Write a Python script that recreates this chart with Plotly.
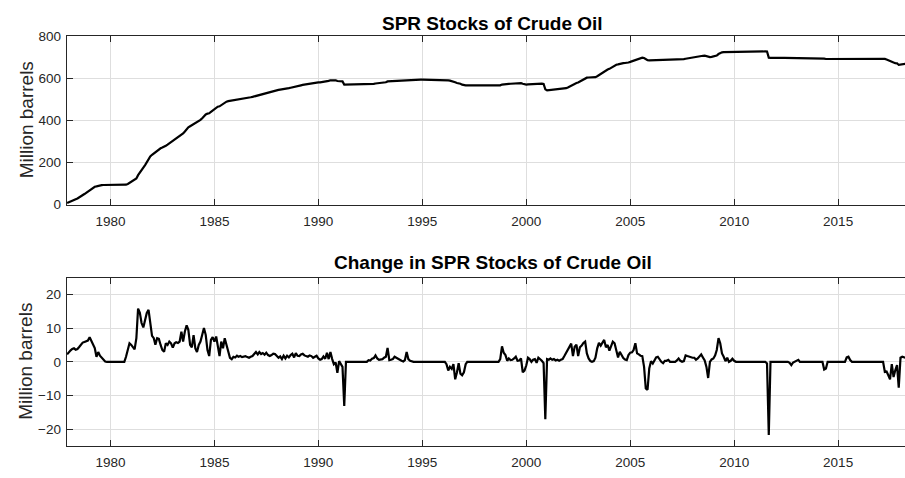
import pandas as pd
import plotly.graph_objects as go

# ---------------- data (monthly, first value = Dec 1977) ----------------
first_month = "1977-12-01"

# SPR stocks of crude oil, million barrels
spr_stocks = [
    7.5,                                                                       # 1977 (Dec)
    10.5, 13.9, 17.7, 21.7, 25.3, 29.1, 33.5, 38.5, 44.2, 50.1, 56.1, 62.4,    # 1978
    69.7, 75.7, 80.7, 84.8, 86.3, 89.2, 91.0, 92.3, 93.1, 93.2, 93.2, 93.2,    # 1979
    93.2, 93.2, 93.2, 93.2, 93.2, 93.2, 93.2, 93.2, 93.2, 94.7, 98.2, 103.7,   # 1980
    108.7, 113.1, 116.8, 123.8, 139.6, 154.1, 165.6, 175.8, 187.8, 202.3, 217.7, 228.7,  # 1981
    236.4, 243.4, 248.5, 255.5, 262.3, 267.3, 270.8, 273.8, 279.3, 284.3, 290.3, 295.8,  # 1982
    300.0, 305.5, 311.3, 316.9, 322.9, 331.8, 337.8, 346.8, 357.6, 367.1, 372.1, 376.4,  # 1983
    384.3, 388.3, 391.2, 396.2, 402.2, 410.2, 420.2, 428.2, 431.7, 433.4, 439.9, 447.2,  # 1984
    453.2, 460.7, 464.7, 466.4, 472.4, 476.4, 483.4, 488.4, 490.9, 492.1, 492.9, 494.4,  # 1985
    495.7, 497.5, 499.0, 500.7, 502.1, 503.7, 505.4, 506.8, 508.0, 509.5, 511.2, 513.5,  # 1986
    516.4, 518.6, 521.5, 523.8, 526.4, 528.5, 531.2, 533.2, 534.9, 536.9, 539.3, 541.6,  # 1987
    543.3, 544.5, 546.1, 546.9, 548.7, 549.7, 551.5, 552.8, 554.8, 557.2, 558.5, 561.1,  # 1988
    562.6, 564.0, 565.9, 568.0, 569.6, 571.0, 572.2, 573.8, 575.2, 576.1, 577.4, 578.9,  # 1989
    579.9, 580.5, 581.3, 582.9, 583.8, 586.5, 587.3, 590.2, 591.0, 590.3, 590.1, 586.8,  # 1990
    587.0, 586.5, 585.0, 570.0, 570.0, 570.0, 570.0, 570.0, 570.0, 570.0, 570.0, 570.0,  # 1991
    570.0, 570.0, 570.0, 570.0, 570.0, 570.5, 570.9, 571.8, 572.9, 574.8, 575.8, 576.4,  # 1992
    577.0, 577.8, 579.0, 580.5, 584.6, 585.1, 585.7, 586.5, 588.0, 589.2, 589.9, 590.3,  # 1993
    590.4, 590.5, 590.9, 592.6, 593.0, 593.2, 593.2, 593.2, 593.2, 593.2, 593.2, 593.2,  # 1994
    593.2, 593.2, 593.2, 593.2, 593.2, 593.2, 593.2, 593.2, 593.2, 593.2, 593.2, 593.2,  # 1995
    593.2, 593.2, 592.5, 589.9, 588.4, 586.3, 585.6, 580.4, 577.3, 576.9, 573.4, 569.4,  # 1996
    566.3, 565.6, 565.6, 565.6, 565.6, 565.6, 565.6, 565.6, 565.6, 565.6, 565.6, 565.6,  # 1997
    565.6, 565.6, 565.6, 565.6, 565.6, 565.6, 565.6, 565.6, 565.6, 566.2, 569.8, 571.6,  # 1998
    572.6, 572.8, 573.4, 573.7, 574.0, 574.6, 575.5, 575.7, 576.0, 576.6, 573.4, 570.6,  # 1999
    569.7, 570.7, 571.4, 571.4, 571.9, 572.6, 572.3, 573.3, 574.0, 574.2, 572.5, 547.0,  # 2000
    542.5, 543.1, 544.1, 544.7, 545.5, 545.9, 546.5, 546.8, 547.4, 548.2, 549.9, 552.6,  # 2001
    556.2, 560.8, 566.2, 567.9, 572.4, 577.5, 579.2, 583.5, 588.3, 593.9, 599.9, 602.4,  # 2002
    603.4, 603.6, 603.6, 603.8, 605.0, 609.0, 614.6, 619.4, 625.2, 631.7, 636.0, 641.0,  # 2003
    644.3, 649.3, 655.3, 660.8, 664.0, 665.3, 668.3, 670.3, 671.4, 672.1, 672.6, 674.6,  # 2004
    677.3, 680.1, 683.6, 689.1, 691.6, 693.8, 695.6, 697.3, 696.0, 689.0, 685.2, 684.5,  # 2005
    684.7, 684.2, 684.7, 686.0, 687.5, 688.0, 688.0, 687.6, 687.9, 688.2, 688.8, 688.8,  # 2006
    688.8, 688.7, 688.7, 689.1, 690.1, 690.4, 690.4, 690.6, 692.5, 694.2, 695.7, 697.2,  # 2007
    698.4, 699.6, 700.2, 701.2, 702.9, 705.1, 706.4, 706.8, 705.3, 700.5, 700.5, 701.2,  # 2008
    702.2, 704.1, 707.6, 714.6, 720.1, 722.6, 724.1, 724.3, 725.5, 725.5, 725.8, 726.7,  # 2009
    727.0, 727.0, 727.0, 727.0, 727.0, 727.0, 727.0, 727.0, 727.0, 727.0, 727.0, 727.0,  # 2010
    727.0, 727.0, 727.0, 727.0, 727.0, 727.0, 727.0, 726.5, 697.5, 696.5, 696.0, 696.0,  # 2011
    696.0, 696.0, 696.0, 696.0, 696.0, 696.0, 696.0, 696.0, 695.7, 694.7, 694.5, 694.5,  # 2012
    694.8, 695.4, 695.4, 695.4, 695.4, 695.4, 695.4, 695.4, 695.4, 695.4, 695.4, 695.4,  # 2013
    695.4, 695.4, 695.4, 695.4, 693.1, 691.1, 691.1, 691.1, 691.1, 691.1, 691.1, 691.1,  # 2014
    691.1, 691.1, 691.1, 691.1, 691.1, 692.4, 693.9, 694.4, 694.4, 694.4, 694.4, 694.4,  # 2015
    694.4, 694.4, 694.4, 694.4, 694.4, 694.4, 694.4, 694.4, 694.4, 694.4, 694.4, 694.4,  # 2016
    694.4, 694.4, 694.4, 691.4, 688.5, 684.5, 679.3, 678.6, 674.1, 671.6, 670.6, 662.9,  # 2017
    664.1, 665.6, 666.9, 668.1,                                                # 2018 (Jan-Apr)
]

# Monthly change in SPR stocks, million barrels
spr_change = [
    2.2,                                                                       # 1977 (Dec)
    3.0, 3.4, 3.8, 4.0, 3.6, 3.8, 4.4, 5.0, 5.7, 5.9, 6.0, 6.3,                # 1978
    7.3, 6.0, 5.0, 4.1, 1.5, 2.9, 1.8, 1.3, 0.8, 0.1, 0.0, 0.0,                # 1979
    0.0, 0.0, 0.0, 0.0, 0.0, 0.0, 0.0, 0.0, 0.0, 1.5, 3.5, 5.5,                # 1980
    5.0, 4.4, 3.7, 7.0, 15.8, 14.5, 11.5, 10.2, 12.0, 14.5, 15.4, 11.0,        # 1981
    7.7, 7.0, 5.1, 7.0, 6.8, 5.0, 3.5, 3.0, 5.5, 5.0, 6.0, 5.5,                # 1982
    4.2, 5.5, 5.8, 5.6, 6.0, 8.9, 6.0, 9.0, 10.8, 9.5, 5.0, 4.3,               # 1983
    7.9, 4.0, 2.9, 5.0, 6.0, 8.0, 10.0, 8.0, 3.5, 1.7, 6.5, 7.3,               # 1984
    6.0, 7.5, 4.0, 1.7, 6.0, 4.0, 7.0, 5.0, 2.5, 1.2, 0.8, 1.5,                # 1985
    1.3, 1.8, 1.5, 1.7, 1.4, 1.6, 1.7, 1.4, 1.2, 1.5, 1.7, 2.3,                # 1986
    2.9, 2.2, 2.9, 2.3, 2.6, 2.1, 2.7, 2.0, 1.7, 2.0, 2.4, 2.3,                # 1987
    1.7, 1.2, 1.6, 0.8, 1.8, 1.0, 1.8, 1.3, 2.0, 2.4, 1.3, 2.6,                # 1988
    1.8, 1.7, 2.2, 2.4, 1.9, 1.7, 1.5, 1.9, 1.7, 1.2, 1.6, 1.8,                # 1989
    1.0, 0.6, 0.8, 1.6, 0.9, 2.7, 0.8, 2.9, 0.8, -0.7, -0.2, -3.3,             # 1990
    0.2, -0.5, -1.5, -13.1, 0.0, 0.0, 0.0, 0.0, 0.0, 0.0, 0.0, 0.0,            # 1991
    0.0, 0.0, 0.0, 0.0, 0.0, 0.5, 0.4, 0.9, 1.1, 1.9, 1.0, 0.6,                # 1992
    0.6, 0.8, 1.2, 1.5, 4.1, 0.5, 0.6, 0.8, 1.5, 1.2, 0.7, 0.4,                # 1993
    0.3, 0.1, 0.5, 2.9, 0.8, 0.3, 0.1, 0.0, 0.0, 0.0, 0.0, 0.0,                # 1994
    0.0, 0.0, 0.0, 0.0, 0.0, 0.0, 0.0, 0.0, 0.0, 0.0, 0.0, 0.0,                # 1995
    0.0, 0.0, -0.7, -2.6, -1.5, -2.1, -0.7, -5.2, -3.1, -0.4, -3.5, -4.0,      # 1996
    -3.1, -0.7, 0.0, 0.0, 0.0, 0.0, 0.0, 0.0, 0.0, 0.0, 0.0, 0.0,              # 1997
    0.0, 0.0, 0.0, 0.0, 0.0, 0.0, 0.0, 0.0, 0.0, 0.8, 4.6, 2.7,                # 1998
    2.0, 0.3, 1.0, 0.5, 0.6, 1.0, 1.5, 0.3, 0.4, 1.0, -3.1, -2.6,              # 1999
    -1.1, 1.2, 0.8, 0.0, 0.6, 0.8, -0.3, 1.2, 0.8, 0.3, -0.4, -17.0,           # 2000
    0.8, 0.6, 1.0, 0.6, 0.8, 0.4, 0.6, 0.3, 0.6, 0.8, 1.7, 2.7,                # 2001
    3.6, 4.6, 5.4, 1.7, 4.5, 5.1, 1.7, 4.3, 4.8, 5.6, 6.0, 2.5,                # 2002
    1.0, 0.2, 0.0, 0.2, 1.2, 4.0, 5.6, 4.8, 5.8, 6.5, 4.3, 5.0,                # 2003
    3.3, 5.0, 6.0, 5.5, 3.2, 1.3, 3.0, 2.0, 1.1, 0.7, 0.5, 2.0,                # 2004
    2.7, 2.8, 3.5, 5.5, 2.5, 2.2, 1.8, 1.7, -1.5, -7.9, -8.3, -2.0,            # 2005
    0.2, -0.5, 0.5, 1.3, 1.5, 0.5, 0.0, -0.4, 0.3, 0.3, 0.6, 0.0,              # 2006
    0.0, -0.1, 0.0, 0.4, 1.0, 0.3, 0.0, 0.2, 1.9, 1.7, 1.5, 1.5,               # 2007
    1.2, 1.2, 0.6, 1.0, 1.7, 2.2, 1.3, 0.4, -1.5, -4.8, 0.0, 0.7,              # 2008
    1.0, 1.9, 3.5, 7.0, 5.5, 2.5, 1.5, 0.2, 1.2, 0.0, 0.3, 0.9,                # 2009
    0.3, 0.0, 0.0, 0.0, 0.0, 0.0, 0.0, 0.0, 0.0, 0.0, 0.0, 0.0,                # 2010
    0.0, 0.0, 0.0, 0.0, 0.0, 0.0, 0.0, -0.5, -21.7, 0.0, 0.0, 0.0,             # 2011
    0.0, 0.0, 0.0, 0.0, 0.0, 0.0, 0.0, 0.0, -0.3, -1.0, -0.2, 0.0,             # 2012
    0.3, 0.6, 0.0, 0.0, 0.0, 0.0, 0.0, 0.0, 0.0, 0.0, 0.0, 0.0,                # 2013
    0.0, 0.0, 0.0, 0.0, -2.3, -2.0, 0.0, 0.0, 0.0, 0.0, 0.0, 0.0,              # 2014
    0.0, 0.0, 0.0, 0.0, 0.0, 1.3, 1.5, 0.5, 0.0, 0.0, 0.0, 0.0,                # 2015
    0.0, 0.0, 0.0, 0.0, 0.0, 0.0, 0.0, 0.0, 0.0, 0.0, 0.0, 0.0,                # 2016
    0.0, 0.0, 0.0, -3.0, -2.9, -4.0, -5.2, -0.7, -4.5, -2.5, -1.0, -7.7,       # 2017
    1.2, 1.5, 1.3, 1.2,                                                        # 2018 (Jan-Apr)
]

year_ticks = [1980, 1985, 1990, 1995, 2000, 2005, 2010, 2015]
stock_ticks = [0, 200, 400, 600, 800]
change_ticks = [-20, -10, 0, 10, 20]

top_title = "SPR Stocks of Crude Oil"
bottom_title = "Change in SPR Stocks of Crude Oil"
y_label = "Million barrels"

months = pd.date_range(first_month, periods=len(spr_stocks), freq="MS")
months2 = pd.date_range(first_month, periods=len(spr_change), freq="MS")

# ---------------- figure ----------------
W, H = 905, 478
AX = "#262626"
GRID = "#dedede"
FONT = "Liberation Sans, Arial, Helvetica, sans-serif"

x_left = 66.7 / W
top_dom = [1 - 204.0 / H, 1 - 30.0 / H]
bot_dom = [1 - 453.3 / H, 1 - 279.3 / H]
x_range = ["1977-11-24", "2018-03-21"]

fig = go.Figure()
fig.add_trace(go.Scatter(x=months, y=spr_stocks, mode="lines",
                         line=dict(color="black", width=2.2),
                         xaxis="x", yaxis="y", hoverinfo="x+y"))
fig.add_trace(go.Scatter(x=months2, y=spr_change, mode="lines",
                         line=dict(color="black", width=2.2),
                         xaxis="x2", yaxis="y2", hoverinfo="x+y"))

tickvals_x = [f"{y}-01-01" for y in year_ticks]
ticktext_x = [str(y) for y in year_ticks]

common_x = dict(type="date", range=x_range, tickvals=tickvals_x, ticktext=ticktext_x,
                ticks="inside", ticklen=6, tickwidth=1, tickcolor=AX,
                showline=True, linecolor=AX, linewidth=1, mirror="ticks",
                showgrid=True, gridcolor=GRID, gridwidth=1, zeroline=False,
                tickfont=dict(family=FONT, size=13.5, color=AX),
                domain=[x_left, 1.0], ticklabelstandoff=4)
common_y = dict(ticks="inside", ticklen=6, tickwidth=1, tickcolor=AX,
                showline=True, linecolor=AX, linewidth=1, mirror=False,
                showgrid=True, gridcolor=GRID, gridwidth=1, zeroline=False,
                tickfont=dict(family=FONT, size=13.5, color=AX),
                ticklabelstandoff=2)

fig.update_layout(
    width=W, height=H,
    margin=dict(l=0, r=0, t=0, b=0),
    paper_bgcolor="white", plot_bgcolor="white",
    showlegend=False,
    font=dict(family=FONT, color=AX),
    xaxis=dict(anchor="y", **common_x),
    xaxis2=dict(anchor="y2", **common_x),
    yaxis=dict(anchor="x", domain=top_dom, range=[0, 800], tickvals=stock_ticks, **common_y),
    yaxis2=dict(anchor="x2", domain=bot_dom, range=[-25, 25], tickvals=change_ticks, **common_y),
)

title_x = (492.5 - 66.7) / (W - 66.7) * (1 - x_left) + x_left
fig.add_annotation(text=f"<b>{top_title}</b>", xref="paper", yref="paper",
                   x=title_x, y=1 - 16.7 / H, xanchor="center", yanchor="middle",
                   showarrow=False, font=dict(family=FONT, size=19, color="black"))
fig.add_annotation(text=f"<b>{bottom_title}</b>", xref="paper", yref="paper",
                   x=title_x, y=1 - 264.0 / H, xanchor="center", yanchor="middle",
                   showarrow=False, font=dict(family=FONT, size=19, color="black"))
for yc in (117.0, 366.3):
    fig.add_annotation(text=y_label, xref="paper", yref="paper",
                       x=26.0 / W, y=1 - yc / H, xanchor="center", yanchor="middle",
                       textangle=-90, showarrow=False,
                       font=dict(family=FONT, size=19, color=AX))

page_fix = ("document.body.style.margin='0';"
            "document.body.style.padding='0';"
            "document.body.style.overflow='hidden';"
            "document.documentElement.style.overflow='hidden';")
fig.write_html("out.html", post_script=page_fix,
               config={"displayModeBar": False, "staticPlot": False})
